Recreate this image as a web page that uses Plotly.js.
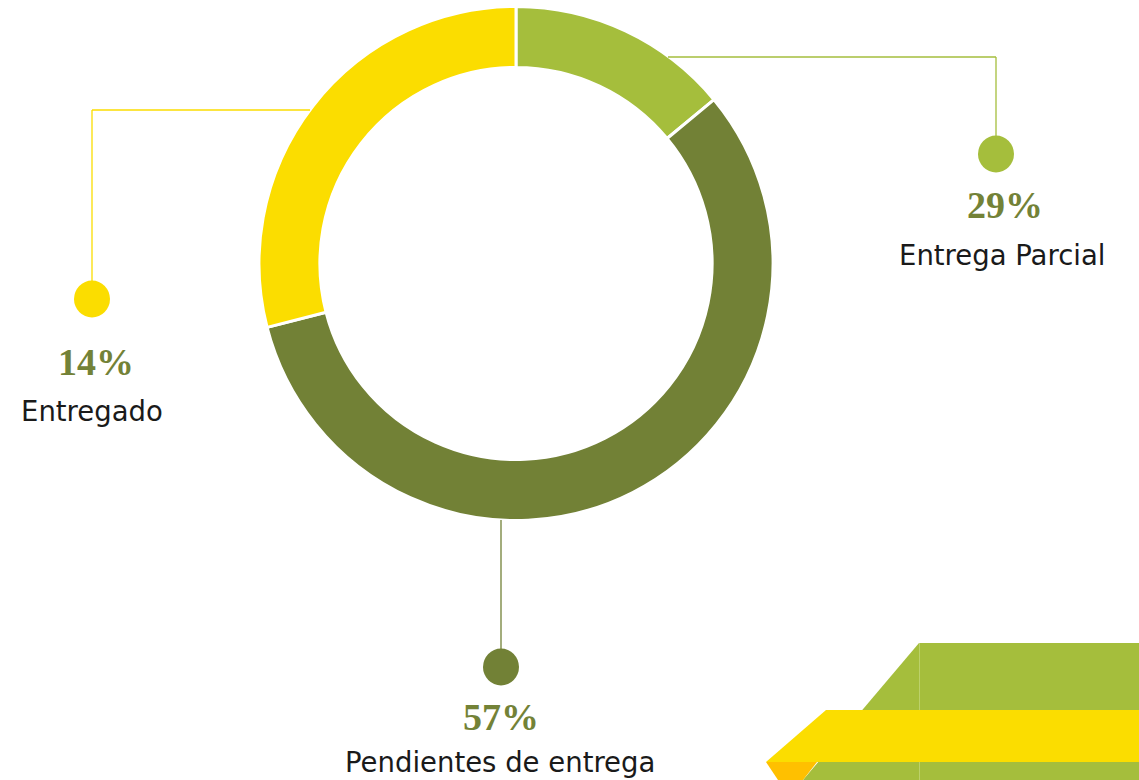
<!DOCTYPE html>
<html>
<head>
<meta charset="utf-8">
<script src="https://cdn.plot.ly/plotly-3.0.1.min.js"></script>
<style>html,body{margin:0;padding:0;background:#fff;}#chart{width:1139px;height:780px;}</style>
</head>
<body>
<div id="chart"></div>
<script>
// ---- data ----
const categories = ["Entrega Parcial", "Pendientes de entrega", "Entregado"];
const sliceValues = [14, 57, 29];
const shownPercents = ["29%", "57%", "14%"];

// ---- styles ----
const sliceColors = ["#A5BE3C", "#728136", "#FBDD00"];
const W = 1139, H = 780;
const px = x => x / W;
const py = y => 1 - y / H;

const trace = {
  type: "pie",
  labels: categories,
  values: sliceValues,
  sort: false,
  direction: "clockwise",
  rotation: 0,
  hole: 0.763,
  textinfo: "none",
  hoverinfo: "label+value",
  showlegend: false,
  marker: { colors: sliceColors, line: { color: "#ffffff", width: 3 } },
  domain: { x: [px(259), px(773)], y: [py(521), py(6)] }
};

function path(pts) {
  return "M " + pts.map(p => px(p[0]) + " " + py(p[1])).join(" L ") + " Z";
}
function line(x0, y0, x1, y1, color) {
  return { type: "line", xref: "paper", yref: "paper", x0: px(x0), y0: py(y0), x1: px(x1), y1: py(y1), line: { color: color, width: 1.3 } };
}
function dot(cx, cy, r, color) {
  return { type: "circle", xref: "paper", yref: "paper", x0: px(cx - r), x1: px(cx + r), y0: py(cy + r + 0.5), y1: py(cy - r - 0.5), fillcolor: color, line: { width: 0 } };
}
function poly(pts, color) {
  return { type: "path", xref: "paper", yref: "paper", path: path(pts), fillcolor: color, line: { width: 0 }, layer: "below" };
}

// label placement for each category (pixel positions of leader elbow & dot)
const leaders = [
  { pts: [[668, 57], [996, 57], [996, 140]], dot: [996, 154], pct: [1005, 205], lab: [1002, 255] },
  { pts: [[501, 520], [501, 652]], dot: [501, 667], pct: [501, 717], lab: [500, 762] },
  { pts: [[310, 110], [92, 110], [92, 285]], dot: [92, 299], pct: [96, 362], lab: [92, 411] }
];

const shapes = [
  poly([[919, 643], [1139, 643], [1139, 780], [803, 780]], "#A5BE3C"),
  { type: "line", xref: "paper", yref: "paper", x0: px(919.5), x1: px(919.5), y0: py(643), y1: py(780), line: { color: "#BCD16A", width: 1 }, layer: "below" },
  poly([[826, 710], [1139, 710], [1139, 762], [766, 762]], "#FBDD00"),
  poly([[766, 762], [817, 762], [803, 780], [778, 780]], "#FFC000")
];
const annotations = [];
leaders.forEach((L, i) => {
  for (let k = 0; k < L.pts.length - 1; k++) {
    shapes.push(line(L.pts[k][0], L.pts[k][1], L.pts[k + 1][0], L.pts[k + 1][1], sliceColors[i]));
  }
  shapes.push(dot(L.dot[0], L.dot[1], 18, sliceColors[i]));
  annotations.push({
    xref: "paper", yref: "paper", x: px(L.pct[0]), y: py(L.pct[1]), xanchor: "center", yanchor: "middle",
    showarrow: false, text: "<b>" + shownPercents[i] + "</b>",
    font: { family: "Liberation Serif, DejaVu Serif, serif", size: 38, color: "#738237" }
  });
  annotations.push({
    xref: "paper", yref: "paper", x: px(L.lab[0]), y: py(L.lab[1]), xanchor: "center", yanchor: "middle",
    showarrow: false, text: categories[i],
    font: { family: "DejaVu Sans, sans-serif", size: 27.5, color: "#1a1a1a" }
  });
});

const layout = {
  width: W, height: H,
  margin: { l: 0, r: 0, t: 0, b: 0 },
  paper_bgcolor: "#ffffff",
  plot_bgcolor: "#ffffff",
  shapes: shapes,
  annotations: annotations
};

Plotly.newPlot("chart", [trace], layout, { displayModeBar: false, staticPlot: true });
</script>
</body>
</html>
